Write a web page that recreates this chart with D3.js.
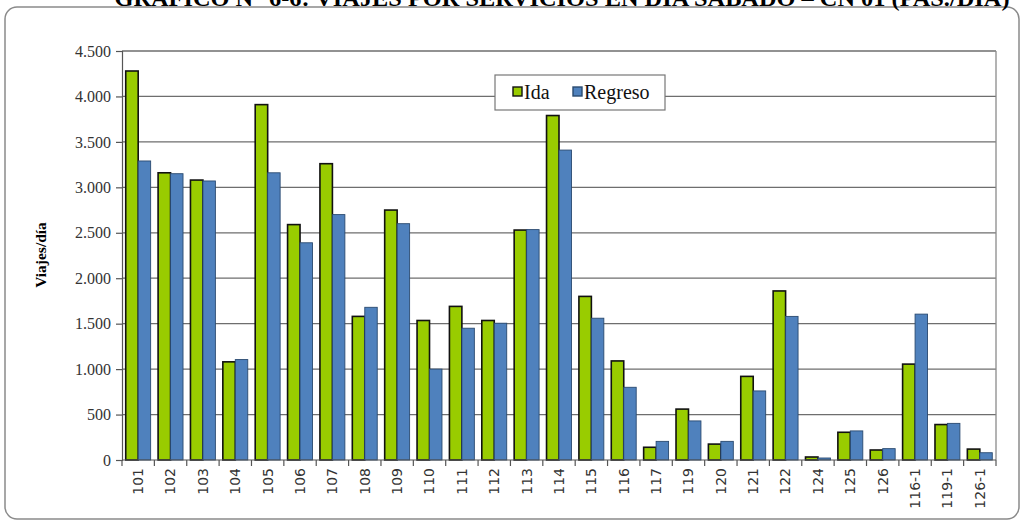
<!DOCTYPE html>
<html><head><meta charset="utf-8">
<script src="https://cdn.jsdelivr.net/npm/d3@7"></script>
<style>body{margin:0;background:#fff}svg{display:block}</style>
</head><body>
<svg id="c" width="1025" height="521"></svg>
<script>
const categories = ["101","102","103","104","105","106","107","108","109","110","111","112","113","114","115","116","117","119","120","121","122","124","125","126","116-1","119-1","126-1"];
const ida =     [4280,3160,3080,1080,3910,2590,3260,1580,2750,1535,1690,1535,2530,3790,1800,1090,140,560,175,920,1860,33,305,110,1055,390,120];
const regreso = [3290,3150,3070,1105,3160,2390,2700,1680,2600,1000,1450,1505,2535,3410,1560,800,205,430,205,760,1580,22,320,125,1605,403,80];
const seriesNames = ["Ida","Regreso"];
const yTicks = [0,500,1000,1500,2000,2500,3000,3500,4000,4500];
const title = "GRÁFICO N° 6-6: VIAJES POR SERVICIOS EN DÍA SÁBADO – CN 01 (PAS./DÍA)";

const SERIF = "'Liberation Serif','Times New Roman',Times,serif";
const svg = d3.select("#c");
const m = {l:122, r:996, t:51, b:460};
const colors = {Ida:"#99CC00", Regreso:"#4F81BD"};
const strokes = {Ida:"#111", Regreso:"#2a4a70"};
const sw = {Ida:1.6, Regreso:0.9};

// outer frame
svg.append("rect").attr("x",5).attr("y",7).attr("width",1014).attr("height",512)
  .attr("rx",12).attr("fill","#fff").attr("stroke","#8a8a8a").attr("stroke-width",1.5);

// title (partially cut at top, as in the reference)
svg.append("text").attr("x",562).attr("y",6).attr("text-anchor","middle")
  .attr("font-family",SERIF).attr("font-weight","bold").attr("font-size",23)
  .attr("textLength",895).attr("lengthAdjust","spacingAndGlyphs")
  .attr("fill","#000").text(title);

const x = d3.scaleBand().domain(categories).range([m.l, m.r]).paddingInner(0.23).paddingOuter(0.115);
const xs = d3.scaleBand().domain(seriesNames).range([0, x.bandwidth()]);
const y = d3.scaleLinear().domain([0,4500]).range([m.b, m.t]);

// gridlines
svg.append("g").selectAll("line").data(yTicks.filter(d=>d>0)).join("line")
  .attr("x1",m.l).attr("x2",m.r).attr("y1",d=>y(d)).attr("y2",d=>y(d))
  .attr("stroke","#6e6e6e").attr("stroke-width",1.3);
svg.append("line").attr("x1",m.r).attr("x2",m.r).attr("y1",m.t).attr("y2",m.b)
  .attr("stroke","#8a8a8a").attr("stroke-width",1.3);

// bars
const rows = categories.map((c,i)=>({c, Ida:ida[i], Regreso:regreso[i]}));
const g = svg.append("g");
seriesNames.forEach(s=>{
  g.selectAll("rect."+s).data(rows).join("rect").attr("class",s)
    .attr("x",d=>x(d.c)+xs(s)).attr("width",xs.bandwidth())
    .attr("y",d=>y(d[s])).attr("height",d=>y(0)-y(d[s]))
    .attr("fill",colors[s]).attr("stroke",strokes[s]).attr("stroke-width",sw[s]);
});

// y axis
const yAxis = d3.axisLeft(y).tickValues(yTicks).tickSize(6).tickPadding(5)
  .tickFormat(d=>d3.format(",")(d).replace(/,/g,"."));
const ya = svg.append("g").attr("transform",`translate(${m.l},0)`).call(yAxis).attr("font-family",SERIF);
ya.selectAll("text").style("font-family",SERIF).attr("font-size",16).attr("fill","#333");
ya.selectAll("path,line").attr("stroke","#555").attr("stroke-width",1.2);

// x axis
const step = x.step();
const xAxis = d3.axisBottom(x).tickSize(0).tickPadding(0);
const xa = svg.append("g").attr("transform",`translate(0,${m.b})`).call(xAxis);
xa.select("path").attr("d",`M${m.l},0H${m.r}`).attr("stroke","#555").attr("stroke-width",1.2);
xa.selectAll(".tick text").attr("transform","translate(0,8) rotate(-90)")
  .attr("text-anchor","end").attr("dy","0.35em").attr("x",0).attr("y",0)
  .style("font-family","'DejaVu Sans',sans-serif").attr("font-size",14).attr("fill","#333");
const bounds = d3.range(categories.length+1).map(i=>m.l + i*step);
xa.selectAll("line.sep").data(bounds).join("line").attr("class","sep")
  .attr("x1",d=>d).attr("x2",d=>d).attr("y1",0).attr("y2",6)
  .attr("stroke","#555").attr("stroke-width",1.2);

// y title
svg.append("text").attr("transform","translate(46,255) rotate(-90)").attr("text-anchor","middle")
  .style("font-family",SERIF).attr("font-weight","bold").attr("font-size",15.5)
  .attr("fill","#000").text("Viajes/día");

// legend
const lg = svg.append("g").attr("transform","translate(495,75)");
lg.append("rect").attr("width",170).attr("height",35).attr("fill","#fff")
  .attr("stroke","#777").attr("stroke-width",1.2);
const items = [{s:"Ida",x:18},{s:"Regreso",x:78}];
items.forEach(it=>{
  lg.append("rect").attr("x",it.x).attr("y",12).attr("width",9).attr("height",9)
    .attr("fill",colors[it.s]).attr("stroke",strokes[it.s]).attr("stroke-width",1.4);
  lg.append("text").attr("x",it.x+11).attr("y",24).style("font-family",SERIF)
    .attr("font-size",20).attr("fill","#111").text(it.s);
});
</script>
</body></html>
